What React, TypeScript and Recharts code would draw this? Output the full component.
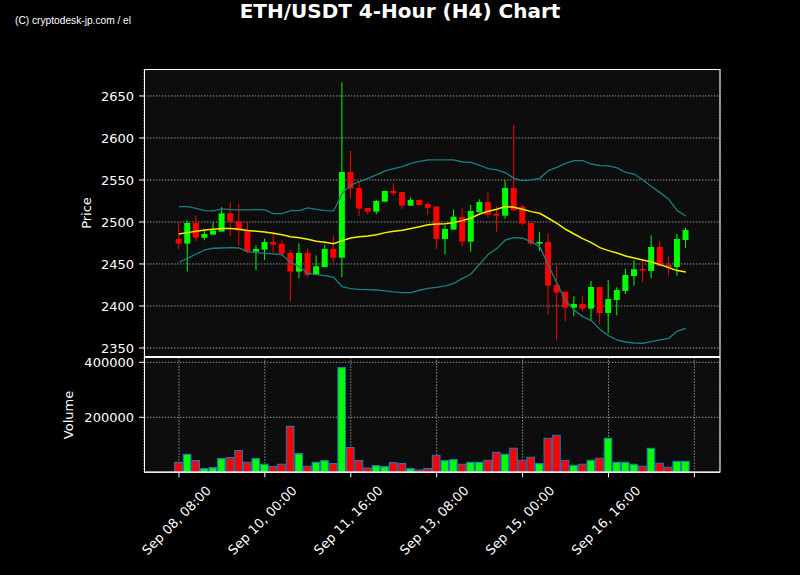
import React from 'react';
import { ComposedChart, Bar, Line, XAxis, YAxis, CartesianGrid, Cell } from 'recharts';

// ---- data ----
const openV = [2479.8, 2474.2, 2498.8, 2481.3, 2484.9, 2488.5, 2510.3, 2500.4, 2489.7, 2464.7,
  2467.1, 2476.2, 2474.2, 2463.1, 2440.9, 2463.1, 2437.3, 2446.4, 2467.9, 2457.5,
  2559.5, 2540.5, 2516.7, 2512.3, 2524.2, 2536.9, 2535.7, 2519.4, 2526.2, 2521.4,
  2518.3, 2479.8, 2490.9, 2506.0, 2476.6, 2511.5, 2523.8, 2509.9, 2507.5, 2540.5,
  2518.3, 2498.8, 2474.2, 2476.2, 2425.0, 2417.1, 2398.0, 2402.4, 2396.8, 2422.6,
  2391.7, 2407.1, 2417.9, 2435.7, 2444.0, 2441.7, 2470.2, 2448.8, 2446.4, 2478.6];
const highV = [2499.6, 2501.6, 2507.5, 2490.5, 2499.2, 2517.5, 2523.4, 2521.0, 2499.6, 2472.2,
  2480.2, 2485.7, 2478.2, 2466.7, 2474.6, 2468.3, 2460.3, 2473.0, 2484.1, 2666.3,
  2584.5, 2548.4, 2516.7, 2526.2, 2537.3, 2546.0, 2535.7, 2529.4, 2526.2, 2524.2,
  2518.3, 2496.0, 2515.1, 2516.3, 2520.2, 2527.0, 2535.3, 2518.7, 2549.6, 2615.5,
  2520.2, 2498.8, 2487.7, 2486.5, 2448.0, 2417.1, 2411.5, 2411.5, 2429.8, 2422.6,
  2431.0, 2422.2, 2444.0, 2454.4, 2454.4, 2484.1, 2477.4, 2458.7, 2485.7, 2492.9];
const lowV = [2467.9, 2441.3, 2477.4, 2478.2, 2484.9, 2488.5, 2482.9, 2471.4, 2462.7, 2442.5,
  2454.8, 2463.5, 2458.7, 2406.0, 2433.0, 2434.9, 2437.0, 2446.0, 2452.0, 2434.1,
  2528.6, 2507.1, 2509.1, 2509.0, 2523.4, 2531.3, 2515.1, 2519.0, 2518.3, 2508.7,
  2467.9, 2461.5, 2490.9, 2471.0, 2464.7, 2511.5, 2505.6, 2487.7, 2504.0, 2513.0,
  2496.0, 2471.8, 2465.5, 2390.0, 2359.5, 2381.7, 2387.7, 2393.7, 2383.0, 2378.6,
  2367.5, 2388.9, 2414.3, 2424.2, 2428.2, 2433.0, 2447.0, 2436.1, 2436.0, 2469.4];
const closeV = [2474.2, 2498.8, 2481.3, 2485.7, 2489.7, 2510.3, 2500.4, 2489.7, 2464.7, 2467.9,
  2476.2, 2473.0, 2462.3, 2440.9, 2463.1, 2436.9, 2447.2, 2467.9, 2457.5, 2559.5,
  2539.7, 2515.9, 2512.3, 2525.0, 2536.9, 2534.1, 2519.4, 2526.2, 2520.2, 2516.7,
  2479.8, 2491.7, 2506.3, 2476.6, 2513.1, 2523.8, 2508.7, 2507.5, 2540.5, 2513.9,
  2498.0, 2474.2, 2476.2, 2424.2, 2415.9, 2398.0, 2402.4, 2396.8, 2422.6, 2391.7,
  2408.3, 2419.0, 2436.9, 2443.7, 2442.1, 2470.2, 2447.6, 2446.0, 2479.8, 2490.5];
const maV = [2485.7, 2487.3, 2488.9, 2490.5, 2491.3, 2492.1, 2492.1, 2491.3, 2489.7, 2488.9,
  2488.1, 2486.5, 2484.9, 2482.5, 2481.3, 2479.4, 2477.0, 2475.8, 2474.2, 2477.8,
  2481.0, 2482.5, 2483.3, 2484.9, 2487.3, 2488.9, 2490.1, 2492.1, 2494.4, 2496.8,
  2497.6, 2498.0, 2499.2, 2501.6, 2504.8, 2509.5, 2512.7, 2515.1, 2518.3, 2517.5,
  2515.1, 2512.3, 2510.3, 2504.4, 2498.4, 2491.3, 2485.7, 2480.2, 2475.4, 2469.4,
  2465.9, 2463.1, 2459.5, 2457.1, 2454.8, 2452.4, 2449.2, 2445.6, 2442.1, 2440.5];
const upperV = [2518.3, 2518.3, 2516.3, 2513.5, 2513.1, 2515.5, 2514.7, 2514.3, 2514.3, 2514.7,
  2514.3, 2509.9, 2509.9, 2513.5, 2513.5, 2516.7, 2515.1, 2513.5, 2513.1, 2534.1,
  2544.0, 2548.0, 2552.0, 2556.0, 2560.7, 2563.5, 2565.9, 2569.8, 2572.2, 2573.8,
  2573.8, 2573.8, 2573.8, 2571.4, 2571.0, 2567.5, 2563.5, 2561.9, 2558.7, 2552.0,
  2549.2, 2550.0, 2552.0, 2561.1, 2565.1, 2569.8, 2573.0, 2573.0, 2569.0, 2567.1,
  2566.7, 2564.3, 2559.1, 2557.1, 2550.0, 2542.1, 2534.9, 2527.0, 2513.5, 2507.1];
const lowerV = [2452.0, 2456.7, 2461.9, 2466.7, 2468.7, 2469.0, 2469.4, 2469.0, 2464.7, 2463.5,
  2462.7, 2461.9, 2461.1, 2451.6, 2446.8, 2438.9, 2437.3, 2436.1, 2434.1, 2423.0,
  2420.6, 2419.8, 2419.4, 2419.0, 2417.9, 2416.7, 2415.9, 2415.9, 2418.7, 2421.0,
  2422.2, 2423.8, 2427.0, 2432.9, 2438.1, 2449.6, 2461.5, 2468.3, 2478.6, 2481.3,
  2480.6, 2476.6, 2470.6, 2448.8, 2427.0, 2406.3, 2395.2, 2387.3, 2382.5, 2372.2,
  2364.7, 2359.5, 2357.1, 2355.9, 2355.6, 2357.5, 2359.5, 2361.5, 2369.8, 2373.4];
const volumeV = [36000, 65000, 42400, 13300, 17000, 49700, 53300, 78800, 36400, 49700,
  29000, 20600, 29000, 167000, 67900, 21800, 36400, 42400, 31500, 380600,
  89700, 42400, 15800, 24200, 20600, 35100, 31500, 13300, 8500, 13300,
  61800, 42400, 46000, 29000, 36400, 36400, 43600, 72700, 65400, 87300,
  43600, 54500, 31500, 123600, 134500, 43600, 25500, 29000, 43600, 50900,
  123600, 36400, 36400, 29000, 21800, 87300, 32700, 18200, 40000, 40000];

const tickIdx = [0, 10, 20, 30, 40, 50, 60];
const tickLabels = ['Sep 08, 08:00', 'Sep 10, 00:00', 'Sep 11, 16:00', 'Sep 13, 08:00', 'Sep 15, 00:00', 'Sep 16, 16:00', ''];
const priceTicks = [2350, 2400, 2450, 2500, 2550, 2600, 2650];
const volTicks = [200000, 400000];

const rows = openV.map((o, i) => ({
  i,
  open: o,
  high: highV[i],
  low: lowV[i],
  close: closeV[i],
  ma: maV[i],
  upper: upperV[i],
  lower: lowerV[i],
  volume: volumeV[i],
}));

const UP = '#00ff00';
const DOWN = '#ff0000';
const FONT = 'DejaVu Sans';
const GRID = '#9a9a9a';
const DASH = '1.4 1.6';
const XDOM: [number, number] = [-4.07, 62.98];

const Candle = (props: any) => {
  const { x, y, width, height, payload } = props;
  if (x == null || payload == null) return null;
  const top = Math.min(y, y + height);
  const h = Math.abs(height);
  const { open, high, low, close } = payload;
  const ppu = h / (high - low || 1);
  const yO = top + (high - open) * ppu;
  const yC = top + (high - close) * ppu;
  const cx = x + width / 2;
  const color = close >= open ? UP : DOWN;
  const bw = 6;
  return (
    <g>
      <line x1={cx} x2={cx} y1={top} y2={top + h} stroke={color} strokeWidth={1} />
      <rect x={cx - bw / 2} y={Math.min(yO, yC)} width={bw} height={Math.max(Math.abs(yC - yO), 1)} fill={color} />
    </g>
  );
};

const XTick = (props: any) => {
  const { x, y, payload } = props;
  const k = tickIdx.indexOf(payload.value);
  const label = k >= 0 ? tickLabels[k] : '';
  if (!label) return null;
  const cx = x - 2.5;
  const cy = y + 41;
  return (
    <text x={cx} y={cy} transform={`rotate(-45 ${cx} ${cy})`} textAnchor="middle" dominantBaseline="central"
      fill="#ffffff" fontSize={13} fontFamily={FONT}>{label}</text>
  );
};

const yTickStyle = { fill: '#ffffff', fontSize: 13, fontFamily: FONT };

export default function App() {
  return (
    <div style={{ position: 'fixed', left: 0, top: 0, width: 800, height: 575, background: '#000000', overflow: 'hidden' }}>
      <div style={{ position: 'absolute', left: 0, top: 0 }}>
        <ComposedChart width={800} height={575} data={rows} margin={{ top: 69.5, right: 80, bottom: 218.3, left: 84 }}>
          <CartesianGrid fill="#0d0d0d" stroke={GRID} strokeDasharray={DASH} strokeWidth={1} />
          <XAxis type="number" dataKey="i" domain={XDOM} allowDataOverflow ticks={tickIdx} height={0}
            tick={false} tickLine={false} axisLine={false} />
          <YAxis type="number" domain={[2339.6, 2681.5]} allowDataOverflow ticks={priceTicks} width={60}
            tick={yTickStyle} tickSize={5} tickMargin={5} tickLine={{ stroke: '#ffffff' }} axisLine={false} />
          <Line type="linear" dataKey="upper" stroke="#178080" strokeWidth={1.3} dot={false} isAnimationActive={false} />
          <Line type="linear" dataKey="lower" stroke="#178080" strokeWidth={1.3} dot={false} isAnimationActive={false} />
          <Bar dataKey={(d: any) => [d.low, d.high]} barSize={6} shape={Candle} isAnimationActive={false} />
          <Line type="linear" dataKey="ma" stroke="#f2f200" strokeWidth={1.5} dot={false} isAnimationActive={false} />
        </ComposedChart>
      </div>
      <div style={{ position: 'absolute', left: 0, top: 0 }}>
        <ComposedChart width={800} height={575} data={rows} margin={{ top: 357.3, right: 80, bottom: 2.7, left: 84 }}>
          <CartesianGrid fill="#0d0d0d" stroke={GRID} strokeDasharray={DASH} strokeWidth={1} />
          <XAxis type="number" dataKey="i" domain={XDOM} allowDataOverflow ticks={tickIdx} height={100}
            interval={0} tick={<XTick />} tickSize={5} tickMargin={2} tickLine={{ stroke: '#ffffff' }}
            axisLine={{ stroke: '#ffffff' }} />
          <YAxis type="number" domain={[0, 418000]} allowDataOverflow ticks={volTicks} width={60}
            tick={yTickStyle} tickSize={5} tickMargin={5} tickLine={{ stroke: '#ffffff' }} axisLine={false} />
          <Bar dataKey="volume" barSize={7.6} stroke="#1f77b4" strokeWidth={1.1} isAnimationActive={false}>
            {rows.map((r, k) => (
              <Cell key={k} fill={r.close >= r.open ? UP : DOWN} />
            ))}
          </Bar>
        </ComposedChart>
      </div>
      <svg width={800} height={575} style={{ position: 'absolute', left: 0, top: 0, pointerEvents: 'none' }}>
        <rect x={144.5} y={69.5} width={575.5} height={287} fill="none" stroke="#ffffff" strokeWidth={1} />
        <rect x={144.5} y={357.5} width={575.5} height={114.5} fill="none" stroke="#ffffff" strokeWidth={1} />
        <text x={400} y={17.5} textAnchor="middle" fill="#ffffff" fontSize={20} fontWeight="bold" fontFamily={FONT}>
          ETH/USDT 4-Hour (H4) Chart
        </text>
        <text x={15} y={24} fill="#ffffff" fontSize={10.2} fontFamily="Liberation Sans">(C) cryptodesk-jp.com / el</text>
        <text x={86.5} y={213} transform="rotate(-90 86.5 213)" textAnchor="middle" dominantBaseline="central"
          fill="#ffffff" fontSize={13} fontFamily={FONT}>Price</text>
        <text x={68} y={415} transform="rotate(-90 68 415)" textAnchor="middle" dominantBaseline="central"
          fill="#ffffff" fontSize={13} fontFamily={FONT}>Volume</text>
      </svg>
    </div>
  );
}
